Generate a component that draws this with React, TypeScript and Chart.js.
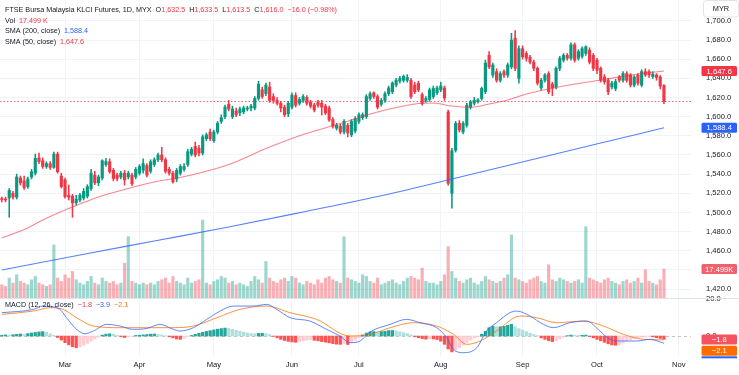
import { useEffect, useRef } from 'react';
import { Chart, registerables } from 'chart.js';
Chart.register(...registerables);

// ---- Data ----
const opens = [
  1514.5,1514,1515,1520,1516,1536,1533,1527,1537,1541,
  1557,1554,1548,1551,1547,1561,1538,1534,1518,1517,
  1510,1513,1515,1517,1525,1539,1531,1536,1550,1553,
  1544,1539,1537,1541,1537,1539,1537,1541,1544,1549,
  1543,1550,1555,1560,1555,1545,1541,1535,1541,1545,
  1550,1561,1569,1567,1562,1577,1584,1575,1584,1595,
  1600,1613,1600,1606,1604,1605,1608,1609,1609,1619,
  1628,1624,1631,1621,1617,1614,1610,1603,1610,1622,
  1614,1617,1620,1615,1612,1615,1614,1611,1609,1597,
  1588,1590,1584,1591,1581,1585,1595,1599,1600,1619,
  1625,1621,1613,1617,1624,1626,1633,1637,1638,1638,
  1638,1633,1635,1623,1617,1618,1621,1625,1628,1630,
  1605,1520,1565,1593,1584,1591,1610,1614,1616,1619,
  1626,1664,1643.5,1647,1638,1647,1643.5,1652,1682,1640,
  1671,1666,1662,1657,1650.5,1630,1638,1645,1634,1631,
  1650.5,1659,1664,1661,1675,1661,1663,1666,1669.5,1664,
  1659,1650.5,1641.5,1638,1631,1629.5,1641.5,1638,1645,1643.5,
  1633,1643.5,1633,1647,1647,1642,1643.5,1641.5,1632.5
];
const highs = [
  1516,1516,1525,1522,1540,1538,1538,1537,1545,1561,
  1562,1557,1553,1553,1563,1563,1541,1536,1528.6,1519,
  1518,1520,1525,1529,1545,1543,1539,1555,1556.5,1556,
  1546,1541,1543,1544,1543,1541,1547,1550,1556,1551,
  1555,1557,1562,1568,1557,1547,1543,1546,1550,1551,
  1566,1568,1573.5,1570,1581,1583,1587,1586,1595,1602,
  1612,1617,1611,1609,1610,1611,1611,1613,1621,1637,
  1631,1635,1636,1624,1620,1616,1612,1616,1625,1625,
  1620,1623,1622,1617,1614,1617,1617,1613,1611,1599,
  1593,1592,1597,1593,1597,1600,1604,1604,1623,1626,
  1626,1623,1619,1626,1632,1636.5,1640,1642,1643.5,1644,
  1640,1636,1637,1625,1621,1630,1632,1632,1636,1632,
  1607,1567,1595,1596,1595,1614,1617,1620,1619,1631,
  1659,1668,1656,1650,1647,1649,1656,1687,1690,1674,
  1674,1668,1664,1659,1652,1640,1645,1647,1636,1652,
  1663,1666,1666,1677,1677,1670,1673,1674,1672,1666,
  1661,1652,1644,1640,1637,1639,1643,1647,1647,1645,
  1643,1645,1649,1650,1649,1647,1645,1643,1633.5
];
const lows = [
  1511,1511,1495,1514,1514,1528.6,1524,1525,1535,1539,
  1551,1546,1546,1545,1546,1541,1525.5,1515,1513,1495,
  1508,1511,1513,1515,1523,1529,1528,1534,1548,1541,
  1533,1533,1535,1528.6,1535,1528,1535,1539,1541,1537,
  1541,1548,1553,1553,1541,1539,1530.7,1532,1539,1543,
  1548,1559,1558,1559,1560,1575,1575,1573,1582,1593,
  1598,1606,1598,1600,1601,1603,1606,1606,1607,1617,
  1619,1622,1615,1614,1612,1605,1600,1600,1608,1610,
  1612,1615,1612,1609,1605,1610,1601.7,1602,1595,1588,
  1586,1582,1582,1579,1579,1583,1593,1597,1598,1617,
  1619,1608,1611,1615,1622,1624,1631,1635,1636,1636,
  1619,1624,1626,1612,1615,1616,1619,1623,1626,1617,
  1528.6,1504.6,1563,1584,1582,1589,1608,1612,1614,1617,
  1624,1650,1641,1636,1636,1641,1641,1650,1648,1635,
  1660,1658,1655,1648,1633,1628,1636,1624,1622,1629,
  1648,1657,1659,1659,1657,1659,1661,1664,1655,1648,
  1645,1636,1634,1623,1629,1627,1636,1636,1636,1631,
  1631,1633,1631,1642,1641,1640,1638,1629,1613.5
];
const closes = [
  1513.5,1513,1523,1516,1537,1531,1526,1535,1542.5,1556.5,
  1553,1548,1551,1547,1561,1542.5,1527,1516.5,1516,1510,
  1514,1518,1522,1527,1541,1531,1537,1554,1553,1542.5,
  1535.5,1535.5,1541,1534,1541,1530,1545,1548,1551,1539,
  1553,1555,1560,1555,1543,1541,1532,1544,1548,1548,
  1563.5,1566,1560,1562,1579,1581,1577,1584,1593,1599,
  1610,1608,1608,1602,1608,1609,1609,1611,1619,1634,
  1621,1633,1617,1617,1614,1609,1602,1614,1622.5,1612,
  1618,1621,1614,1611,1607,1612,1610,1604,1596.5,1590,
  1591,1584,1595,1583,1595,1598,1602,1602,1621,1624,
  1621,1610,1617,1624,1630,1635,1638,1640,1642,1641,
  1621,1626,1628,1614,1619,1628,1629.5,1630,1632,1619.5,
  1530.4,1564.5,1593,1586,1593,1612,1615.5,1617,1617.5,1629.5,
  1656,1652,1654,1638,1645,1643.5,1654,1680,1650.5,1671,
  1662.5,1661,1657,1650.5,1635,1638,1643.5,1626,1630,1650.5,
  1661,1664,1661,1675,1659,1668,1671,1673,1657,1650.5,
  1648.5,1638,1636.5,1626,1635,1636.5,1638,1645,1638,1633,
  1641.5,1635,1647,1643.5,1643.5,1644.5,1641,1632,1616.0
];
// volume in thousands
const volumes = [
  8,7,12,9,14,10,9,8,11,13,
  9,8,7,8,32,12,10,14,12,16,
  11,9,8,10,13,9,8,12,10,9,
  10,8,9,21,37,10,9,8,9,8,
  9,8,10,11,12,9,13,10,9,8,
  12,9,10,11,47,9,8,10,11,13,
  12,9,10,8,9,8,7,10,13,11,
  9,22,12,10,9,11,12,10,13,12,
  9,8,10,9,8,11,9,12,13,11,
  10,9,37,12,11,10,9,14,13,10,
  9,12,8,9,10,11,9,8,10,12,
  13,12,11,18,10,9,9,8,10,14,
  31,16,12,10,9,11,12,9,8,10,
  13,11,10,9,10,12,14,38,12,11,
  10,9,11,12,13,10,9,20,11,10,
  12,11,10,9,10,11,9,43,12,11,
  10,9,11,12,10,9,8,10,11,9,
  10,12,9,17,10,9,8,11,17.499
];
const macdHist = [
  0.4,0.6,0.5,0.7,0.9,1.1,1.0,1.3,1.6,1.9,
  2.2,2.4,2.0,1.2,0.4,-0.8,-2.2,-3.6,-4.8,-5.8,
  -6.3,-5.9,-5.0,-3.9,-2.8,-1.7,-0.6,0.5,1.0,1.2,
  1.0,0.4,-0.3,-0.8,-0.6,-0.2,0.3,0.4,0.6,0.8,
  1.0,1.1,0.9,0.6,0.2,-0.4,-1.0,-1.6,-1.8,-1.2,
  -0.4,0.3,0.9,1.5,2.0,2.5,2.9,3.3,3.7,4.0,
  4.3,4.1,3.6,3.1,2.6,2.1,1.7,1.4,1.2,1.4,
  1.5,1.3,0.8,-0.2,-1.0,-1.8,-2.4,-2.9,-3.2,-3.4,
  -3.0,-2.6,-2.2,-2.0,-2.3,-2.6,-3.0,-3.3,-3.7,-4.1,
  -4.4,-4.5,-4.2,-4.6,-3.5,-2.3,-1.0,0.6,1.6,2.2,
  2.4,2.2,2.4,2.6,2.9,3.0,2.8,2.3,1.8,1.3,
  0.6,-0.4,-0.9,-1.4,-1.7,-1.5,-1.6,-1.9,-2.8,-4.5,
  -7.0,-8.6,-7.6,-6.3,-4.9,-3.4,-2.2,-1.2,-0.5,1.0,
  2.5,4.5,5.2,5.0,5.0,5.2,5.8,6.3,5.0,4.0,
  3.2,2.4,1.5,0.8,0.2,-1.0,-1.8,-2.5,-3.0,-2.6,
  -1.6,-0.7,0.2,0.5,0.4,0.3,0.4,0.5,-0.3,-1.0,
  -1.8,-2.6,-3.4,-4.2,-4.8,-5.0,-4.6,-3.8,-2.8,-2.0,
  -1.4,-0.9,-0.6,-0.4,-0.3,-0.5,-0.9,-1.3,-1.8
];
const sma200Idx = [0, 21, 41, 61, 81, 101, 121, 141, 161, 178];
const sma200Val = [1440, 1455.6, 1470.2, 1484.8, 1500.5, 1516.6, 1534.9, 1553.7, 1572.5, 1588.4];
const sma50Idx = [0, 6, 11, 16, 21, 26, 31, 41, 51, 61, 71, 81, 91, 101, 111, 116, 121, 126, 131, 136, 141, 151, 161, 171, 178];
const sma50Val = [1473.3, 1482.2, 1492.1, 1501.0, 1508.8, 1516.1, 1521.9, 1531.8, 1539.1, 1550.0, 1566.7, 1581.4, 1592.8, 1604.8, 1613.2, 1614.2, 1611.1, 1609.7, 1613.2, 1617.4, 1623.6, 1632.0, 1638.2, 1644.5, 1647.6];
const macdIdx = [0, 8.5, 11, 15.6, 17.4, 20.1, 22.4, 24.6, 28.2, 31.8, 35.3, 39, 42.5, 46.1, 47.9, 51.5, 55.1, 58.7, 62.2, 67.6, 71.2, 73.9, 77.5, 82.8, 87.3, 90.9, 93.6, 96.3, 99, 104.4, 108.8, 112.4, 116.9, 119.6, 121.4, 124.1, 127.7, 130.3, 133, 136.6, 138.4, 142, 145.6, 148.3, 152.7, 157.2, 160.8, 163.5, 167.1, 170.7, 174.3, 178];
const macdVal = [12.6, 14.4, 16.2, 14.4, 9.9, 3.6, 1.2, 2.7, 6.3, 5.4, 3.6, 4.1, 6.3, 3.6, 2.7, 4.5, 9, 13.5, 16.2, 16.2, 17.1, 14.4, 9.9, 8.1, 3.6, 0, -3.6, -2.7, 2.2, 6.3, 9, 7.2, 4.5, -0.9, -7.2, -9, -6.3, 2.7, 7.2, 12.6, 13.5, 10.8, 6.3, 4.5, 7.2, 8.1, 2.7, -1.8, -2.7, -2.7, -1.8, -3.9];
const signalIdx = [0, 8.5, 13, 16.5, 20.1, 24.6, 31.8, 39, 46.1, 51.5, 57.8, 64, 71.2, 77.5, 84.6, 93.6, 99, 104.4, 110.6, 116.9, 121.4, 125, 128.6, 133, 139.3, 143.8, 149.2, 156.3, 161.7, 167.1, 172.5, 178];
const signalVal = [11.7, 13.5, 15.3, 14.4, 9.9, 5.4, 4.5, 4.5, 4.5, 5.4, 9.9, 14.4, 16.2, 12.6, 9, 0, 0.9, 4.5, 7.2, 5.4, 0.9, -4.5, -2.7, 2.7, 10.8, 9.9, 7.2, 8.1, 5.4, 0.9, -1.8, -2.1];
const monthIdx = [17, 37, 57, 78, 96, 118, 140, 160, 182];
const monthLabels = ['Mar', 'Apr', 'May', 'Jun', 'Jul', 'Aug', 'Sep', 'Oct', 'Nov'];
const priceTicks = [1420, 1440, 1460, 1480, 1500, 1520, 1540, 1560, 1580, 1600, 1620, 1640, 1660, 1680, 1700];
const macdTicks = [0, 20];

const UP = '#089981';
const DN = '#f23645';
const FONT = '"Liberation Sans", Arial, sans-serif';
const TXT = '#131722';

const fmt = (v: number, d = 1) =>
  v.toLocaleString('en-US', { minimumFractionDigits: d, maximumFractionDigits: d }).replace('-', '\u2212');

const noPad = (s: any) => { s.paddingTop = 0; s.paddingBottom = 0; s.paddingLeft = 0; s.paddingRight = 0; };

export default function App() {
  const ref = useRef<HTMLCanvasElement | null>(null);
  useEffect(() => {
    document.body.style.margin = '0';
    const canvas = ref.current!;
    const n = closes.length;
    const last = n - 1;
    const isUp = (i: number) => closes[i] >= opens[i];
    const histColor = macdHist.map((h, i) => {
      const p = i > 0 ? macdHist[i - 1] : h;
      if (h >= 0) return h >= p ? '#26a69a' : '#b2dfdb';
      return h < p ? '#ff5252' : '#ffcdd2';
    });

    const overlay = {
      id: 'overlay',
      beforeDatasetsDraw(chart: any) {
        const { ctx, chartArea: a, scales } = chart;
        ctx.save();
        const yl = scales.y.getPixelForValue(closes[last]);
        ctx.strokeStyle = 'rgba(242,54,69,0.75)';
        ctx.lineWidth = 1;
        ctx.setLineDash([1.5, 2]);
        ctx.beginPath();
        ctx.moveTo(a.left, Math.round(yl) + 0.5);
        ctx.lineTo(a.right, Math.round(yl) + 0.5);
        ctx.stroke();
        const y0 = scales.macd.getPixelForValue(0);
        ctx.strokeStyle = 'rgba(120,123,134,0.45)';
        ctx.setLineDash([3, 3]);
        ctx.beginPath();
        ctx.moveTo(a.left, Math.round(y0) + 0.5);
        ctx.lineTo(a.right, Math.round(y0) + 0.5);
        ctx.stroke();
        ctx.restore();
      },
      afterDraw(chart: any) {
        const { ctx, scales } = chart;
        ctx.save();
        const ys = scales.macd.top;
        ctx.strokeStyle = '#e0e3eb';
        ctx.lineWidth = 1;
        ctx.beginPath();
        ctx.moveTo(0, Math.round(ys) + 0.5);
        ctx.lineTo(chart.width, Math.round(ys) + 0.5);
        ctx.stroke();

        const seg = (x: number, y: number, parts: [string, string][], size = 7.2) => {
          ctx.font = `${size}px ${FONT}`;
          ctx.textBaseline = 'middle';
          ctx.textAlign = 'left';
          let cx = x;
          for (const [t, c] of parts) {
            ctx.fillStyle = c;
            ctx.fillText(t, cx, y);
            cx += ctx.measureText(t).width;
          }
        };
        const o = opens[last], h = highs[last], l = lows[last], c = closes[last];
        const ch = c - closes[last - 1];
        const pct = (ch / closes[last - 1]) * 100;
        seg(5, 10, [
          ['FTSE Bursa Malaysia KLCI Futures, 1D, MYX  ', TXT],
          ['O', TXT], [fmt(o), DN], ['  H', TXT], [fmt(h), DN], ['  L', TXT], [fmt(l), DN],
          ['  C', TXT], [fmt(c), DN], [`  ${fmt(ch)} (${fmt(pct, 2)}%)`, DN],
        ]);
        seg(5, 21, [['Vol  ', TXT], [`${fmt(volumes[last], 3)} K`, DN]]);
        seg(5, 31.5, [['SMA (200, close)  ', TXT], [fmt(sma200Val[sma200Val.length - 1]), '#2962ff']]);
        seg(5, 42, [['SMA (50, close)  ', TXT], [fmt(sma50Val[sma50Val.length - 1]), DN]]);
        seg(5, 305, [
          ['MACD (12, 26, close)  ', TXT],
          [fmt(macdHist[last]), DN], ['  ', TXT],
          [fmt(macdVal[macdVal.length - 1]), '#2962ff'], ['  ', TXT],
          [fmt(signalVal[signalVal.length - 1]), '#ff6d00'],
        ]);

        const tag = (text: string, yc: number, bg: string, fg = '#ffffff') => {
          const x0 = 701.5, w = 35.5, hh = 10;
          ctx.fillStyle = bg;
          ctx.beginPath();
          (ctx as any).roundRect(x0, yc - hh / 2, w, hh, 1.5);
          ctx.fill();
          ctx.fillStyle = fg;
          ctx.font = `7.6px ${FONT}`;
          ctx.textAlign = 'center';
          ctx.textBaseline = 'middle';
          ctx.fillText(text, x0 + w / 2, yc + 0.5);
        };
        tag(fmt(sma50Val[sma50Val.length - 1]), scales.y.getPixelForValue(sma50Val[sma50Val.length - 1]), '#f23645');
        tag(fmt(sma200Val[sma200Val.length - 1]), scales.y.getPixelForValue(sma200Val[sma200Val.length - 1]), '#2962ff');
        tag(`${fmt(volumes[last], 3)}K`, scales.vol.getPixelForValue(volumes[last]), '#f0616b');
        tag(fmt(macdHist[last]), 339.6, '#f7525f');
        tag(fmt(signalVal[signalVal.length - 1]), 350.8, '#ff6d00');
        ctx.fillStyle = '#2962ff';
        ctx.fillRect(701.5, 356.3, 35.5, 2);

        ctx.fillStyle = '#ffffff';
        ctx.strokeStyle = '#e0e3eb';
        ctx.beginPath();
        (ctx as any).roundRect(703.5, 0.5, 35, 16.5, 3);
        ctx.fill();
        ctx.stroke();
        ctx.fillStyle = TXT;
        ctx.font = `7.4px ${FONT}`;
        ctx.textAlign = 'center';
        ctx.textBaseline = 'middle';
        ctx.fillText('MYR', 721, 9);
        ctx.restore();
      },
    };

    const chart = new Chart(canvas, {
      type: 'bar',
      data: {
        datasets: [
          {
            type: 'bar', yAxisID: 'vol', order: 10, grouped: false,
            data: volumes.map((v, i) => ({ x: i, y: v })) as any,
            backgroundColor: volumes.map((_, i) => (isUp(i) ? 'rgba(8,153,129,0.4)' : 'rgba(242,54,69,0.4)')),
            barThickness: 2.5, borderWidth: 0,
          },
          {
            type: 'bar', yAxisID: 'y', order: 6, grouped: false,
            data: highs.map((hv, i) => ({ x: i, y: [lows[i], hv] })) as any,
            backgroundColor: highs.map((_, i) => (isUp(i) ? UP : DN)),
            barThickness: 0.9, borderWidth: 0,
          },
          {
            type: 'bar', yAxisID: 'y', order: 5, grouped: false,
            data: opens.map((ov, i) => ({ x: i, y: [Math.min(ov, closes[i]), Math.max(ov, closes[i])] })) as any,
            backgroundColor: opens.map((_, i) => (isUp(i) ? UP : DN)),
            barThickness: 2.5, borderWidth: 0, minBarLength: 1,
          },
          {
            type: 'line', yAxisID: 'y', order: 2,
            data: sma200Idx.map((x, k) => ({ x, y: sma200Val[k] })) as any,
            borderColor: 'rgba(41,98,255,0.8)', borderWidth: 1.1, pointRadius: 0, cubicInterpolationMode: 'monotone',
          },
          {
            type: 'line', yAxisID: 'y', order: 2,
            data: sma50Idx.map((x, k) => ({ x, y: sma50Val[k] })) as any,
            borderColor: 'rgba(242,54,69,0.6)', borderWidth: 1.1, pointRadius: 0, cubicInterpolationMode: 'monotone',
          },
          {
            type: 'bar', yAxisID: 'macd', order: 7, grouped: false,
            data: macdHist.map((v, i) => ({ x: i, y: v })) as any,
            backgroundColor: histColor, barThickness: 2.6, borderWidth: 0,
          },
          {
            type: 'line', yAxisID: 'macd', order: 1,
            data: macdIdx.map((x, k) => ({ x, y: macdVal[k] })) as any,
            borderColor: 'rgba(41,98,255,0.75)', borderWidth: 1, pointRadius: 0, cubicInterpolationMode: 'monotone',
          },
          {
            type: 'line', yAxisID: 'macd', order: 1,
            data: signalIdx.map((x, k) => ({ x, y: signalVal[k] })) as any,
            borderColor: 'rgba(255,109,0,0.75)', borderWidth: 1, pointRadius: 0, cubicInterpolationMode: 'monotone',
          },
        ],
      },
      options: {
        responsive: false,
        animation: false,
        devicePixelRatio: 1,
        events: [],
        layout: { padding: 0, autoPadding: false },
        plugins: { legend: { display: false }, tooltip: { enabled: false } },
        scales: {
          x: {
            type: 'linear', position: 'bottom', min: -0.484, max: 185.27, offset: false,
            afterFit: (s: any) => { s.height = 19; noPad(s); },
            afterBuildTicks: (s: any) => { s.ticks = monthIdx.map((v) => ({ value: v })); },
            grid: { color: '#f0f3fa', drawTicks: false, offset: false },
            border: { display: false },
            ticks: {
              padding: 4.5, color: TXT, font: { size: 7.6, family: FONT }, maxRotation: 0, autoSkip: false,
              callback: (v: any) => { const k = monthIdx.indexOf(v); return k >= 0 ? monthLabels[k] : ''; },
            },
          },
          y: {
            type: 'linear', position: 'right', stack: 'r', stackWeight: 298, min: 1410.7, max: 1721.8,
            afterFit: (s: any) => { s.width = 48; noPad(s); },
            afterBuildTicks: (s: any) => { s.ticks = priceTicks.map((v) => ({ value: v })); },
            grid: { color: '#f0f3fa', drawTicks: false },
            border: { display: false },
            ticks: { padding: 15, autoSkip: false, color: TXT, font: { size: 7.6, family: FONT }, callback: (v: any) => fmt(v) },
          },
          macd: {
            type: 'linear', position: 'right', stack: 'r', stackWeight: 58, min: -10.8, max: 20.55,
            afterFit: (s: any) => { s.width = 48; noPad(s); },
            afterBuildTicks: (s: any) => { s.ticks = macdTicks.map((v) => ({ value: v })); },
            grid: { display: false, drawTicks: false },
            border: { display: false },
            ticks: { padding: 15, autoSkip: false, color: TXT, font: { size: 7.6, family: FONT }, callback: (v: any) => fmt(v) },
          },
          vol: {
            type: 'linear', position: 'right', display: false, min: -35.0, max: 179.8,
          },
        },
      } as any,
      plugins: [overlay],
    });
    return () => chart.destroy();
  }, []);
  return <canvas ref={ref} width={739} height={375} style={{ display: 'block', width: 739, height: 375 }} />;
}
